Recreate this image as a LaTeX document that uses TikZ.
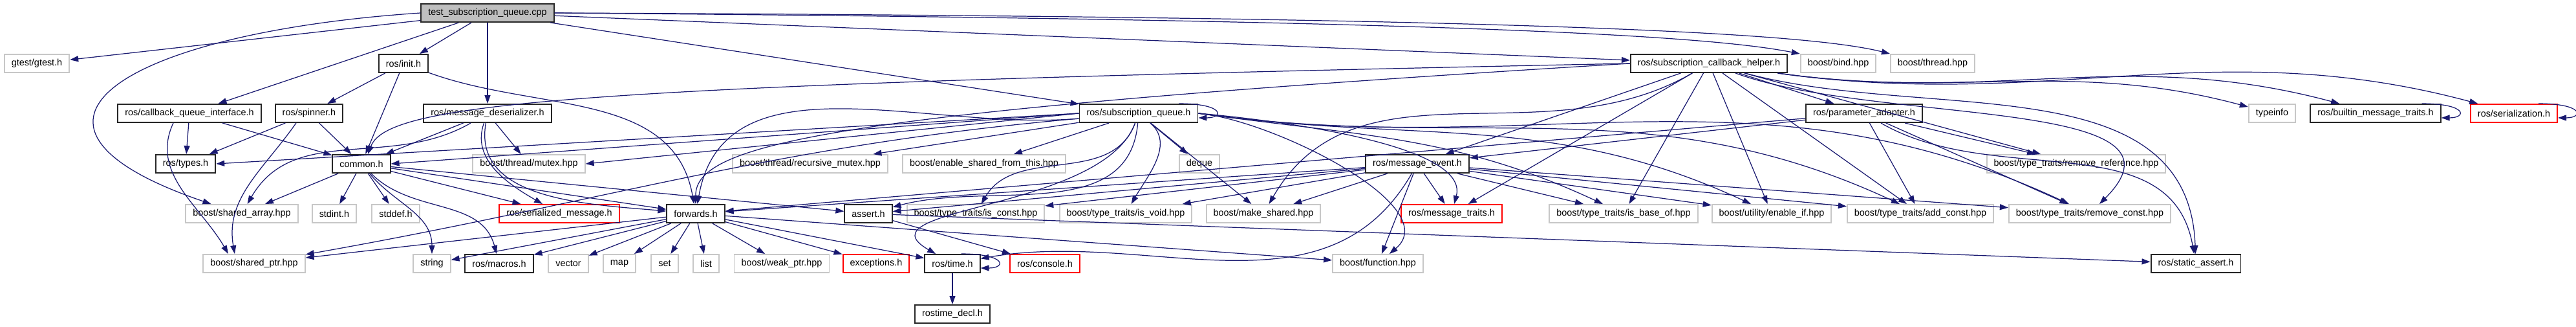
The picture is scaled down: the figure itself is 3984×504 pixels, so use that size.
\documentclass[tikz,border=0pt]{standalone}
\usepackage{fontspec}
\newfontfamily\dotfont{Liberation Sans}
\usetikzlibrary{arrows.meta}

\definecolor{edgeblue}{HTML}{191970}

\tikzset{
    hdr/.style={draw, rectangle, font=\dotfont\fontsize{4.1}{5}\selectfont, inner xsep=1.1mm, inner ysep=0pt, minimum height=2.8mm, line width=0.55pt},
    sysinc/.style={hdr, draw=black!22},
    docinc/.style={hdr, draw=black!85},
    trunc/.style={hdr, draw=red},
    rootfile/.style={hdr, draw=black!85, fill=black!25},
    dep/.style={draw=edgeblue, line width=0.35pt, -{Triangle[length=1.3mm, width=0.9mm]}}
}

\begin{document}
\begin{tikzpicture}[x=0.1mm, y=0.1mm]
            \useasboundingbox (0,0) rectangle (3984,-504);

            % Files, row by row
            \node (cpp) at (754,-20) [rootfile] {test\_subscription\_queue.cpp};

            \node (gtest) at (57,-98) [sysinc] {gtest/gtest.h};
            \node (init) at (624,-98) [docinc] {ros/init.h};
            \node (helper) at (2643,-98) [docinc] {ros/subscription\_callback\_helper.h};
            \node (bind) at (2843,-98) [sysinc] {boost/bind.hpp};
            \node (thread) at (2989,-98) [sysinc] {boost/thread.hpp};

            \node (cbqi) at (293,-175) [docinc] {ros/callback\_queue\_interface.h};
            \node (spinner) at (478,-175) [docinc] {ros/spinner.h};
            \node (deser) at (754,-175) [docinc] {ros/message\_deserializer.h};
            \node (subq) at (1761,-175) [docinc] {ros/subscription\_queue.h};
            \node (param) at (2883,-175) [docinc] {ros/parameter\_adapter.h};
            \node (typeinfo) at (3514,-175) [sysinc] {typeinfo};
            \node (builtin) at (3674,-175) [docinc] {ros/builtin\_message\_traits.h};
            \node (serial) at (3888,-175) [trunc] {ros/serialization.h};

            \node (types) at (287,-253) [docinc] {ros/types.h};
            \node (common) at (559,-253) [docinc] {common.h};
            \node (mutex) at (818,-253) [sysinc] {boost/thread/mutex.hpp};
            \node (recmutex) at (1253,-253) [sysinc] {boost/thread/recursive\_mutex.hpp};
            \node (enshared) at (1522,-253) [sysinc] {boost/enable\_shared\_from\_this.hpp};
            \node (deque) at (1855,-253) [sysinc] {deque};
            \node (msgevent) at (2192,-253) [docinc] {ros/message\_event.h};
            \node (removeref) at (3211,-253) [sysinc] {boost/type\_traits/remove\_reference.hpp};

            \node (sharedarray) at (374,-330) [sysinc] {boost/shared\_array.hpp};
            \node (stdint) at (517,-330) [sysinc] {stdint.h};
            \node (stddef) at (612,-330) [sysinc] {stddef.h};
            \node (serialmsg) at (865,-330) [trunc] {ros/serialized\_message.h};
            \node (forwards) at (1076,-330) [docinc] {forwards.h};
            \node (assert) at (1343,-330) [docinc] {assert.h};
            \node (isconst) at (1509,-330) [sysinc] {boost/type\_traits/is\_const.hpp};
            \node (isvoid) at (1741,-330) [sysinc] {boost/type\_traits/is\_void.hpp};
            \node (makeshared) at (1954,-330) [sysinc] {boost/make\_shared.hpp};
            \node (msgtraits) at (2245,-330) [trunc] {ros/message\_traits.h};
            \node (isbaseof) at (2511,-330) [sysinc] {boost/type\_traits/is\_base\_of.hpp};
            \node (enableif) at (2740,-330) [sysinc] {boost/utility/enable\_if.hpp};
            \node (addconst) at (2970,-330) [sysinc] {boost/type\_traits/add\_const.hpp};
            \node (removeconst) at (3232,-330) [sysinc] {boost/type\_traits/remove\_const.hpp};

            \node (sharedptr) at (393,-407) [sysinc] {boost/shared\_ptr.hpp};
            \node (string) at (668,-407) [sysinc] {string};
            \node (macros) at (772,-407) [docinc] {ros/macros.h};
            \node (vector) at (879,-407) [sysinc] {vector};
            \node (map) at (958,-407) [sysinc] {map};
            \node (set) at (1028,-407) [sysinc] {set};
            \node (list) at (1092,-407) [sysinc] {list};
            \node (weakptr) at (1209,-407) [sysinc] {boost/weak\_ptr.hpp};
            \node (exceptions) at (1355,-407) [trunc] {exceptions.h};
            \node (time) at (1473,-407) [docinc] {ros/time.h};
            \node (console) at (1616,-407) [trunc] {ros/console.h};
            \node (function) at (2131,-407) [sysinc] {boost/function.hpp};
            \node (staticassert) at (3396,-407) [docinc] {ros/static\_assert.h};

            \node (timedecl) at (1473,-485) [docinc] {rostime\_decl.h};

            % test_subscription_queue.cpp
            \foreach \t in {gtest, init, cbqi, deser, subq, helper}
                \draw[dep] (cpp) -- (\t);
            \draw[dep] (cpp.west) .. controls (200,-50) and (-40,-190) .. ([xshift=4mm]sharedarray.north west);
            \draw[dep] (cpp.east) .. controls (2300,-31) and (2650,-57) .. (bind.north west);
            \draw[dep] (cpp.east) .. controls (2400,-26) and (2800,-52) .. (thread.north west);

            % ros/init.h, callback queue, spinner
            \foreach \t in {spinner, common}
                \draw[dep] (init) -- (\t);
            \draw[dep] (init) to[out=-20, in=100] (forwards);
            \foreach \t in {types, common}
                \draw[dep] (cbqi) -- (\t);
            \draw[dep] ([xshift=-2.5mm]cbqi.south) to[out=-115, in=120] ([xshift=-4mm]sharedptr.north);
            \foreach \t in {types, common}
                \draw[dep] (spinner) -- (\t);
            \draw[dep] ([xshift=-2mm]spinner.south) to[out=-125, in=100] ([xshift=-3mm]sharedptr.north);

            % ros/message_deserializer.h
            \foreach \t in {common, mutex}
                \draw[dep] (deser) -- (\t);
            \draw[dep] (deser) to[out=-150, in=60] (sharedarray);
            \draw[dep] (deser) to[out=-110, in=150] (serialmsg);
            \draw[dep] (deser) to[out=-100, in=175] (forwards);

            % common.h
            \foreach \t in {sharedarray, stdint, stddef, serialmsg, forwards, assert}
                \draw[dep] (common) -- (\t);
            \draw[dep] (common) to[out=-50, in=90] (string);
            \draw[dep] (common) to[out=-45, in=105] (macros);

            % ros/subscription_queue.h
            \draw[dep] ([xshift=-3mm]subq.north east) .. controls +(7mm,0) and +(4mm,0) .. ([yshift=0.8mm]subq.south east);
            \foreach \t in {types, common, mutex}
                \draw[dep] (subq.west) -- (\t.east);
            \foreach \t in {recmutex, enshared, deque, makeshared}
                \draw[dep] (subq) -- (\t);
            \draw[dep] (subq) to[out=185, in=80] (forwards);
            \draw[dep] (subq) to[out=185, in=10] (sharedptr);
            \draw[dep] (subq) to[out=-110, in=150] (time);
            \draw[dep] (subq) to[out=-110, in=60] (isconst);
            \draw[dep] (subq) to[out=-95, in=15] (assert);
            \draw[dep] (subq) to[out=-40, in=60] (isvoid);
            \draw[dep] (subq.east) to[out=-5, in=75, looseness=0.6] (msgtraits);
            \draw[dep] (subq.east) to[out=-5, in=40, looseness=0.8] (function);
            \foreach \t in {isbaseof, enableif, addconst, removeconst}
                \draw[dep] (subq.east) to[out=-8, in=155] (\t);

            % ros/subscription_callback_helper.h
            \foreach \t in {msgevent, msgtraits, isbaseof, enableif, addconst, param, removeref}
                \draw[dep] (helper) -- (\t);
            \foreach \t in {typeinfo, builtin, serial}
                \draw[dep] (helper) to[out=-8, in=165] (\t);
            \draw[dep] (helper.west) .. controls (900,-131) and (600,-157) .. ([xshift=1mm]common.north);
            \draw[dep] (helper.west) .. controls (1300,-172) and (1075,-220) .. (forwards.north);
            \draw[dep] (helper) to[out=-150, in=60] (makeshared);
            \draw[dep] (helper) to[out=-20, in=45] (removeconst);
            \draw[dep] (helper) to[out=-15, in=92] (staticassert);
            \draw[dep] ([xshift=-3mm]builtin.north east) .. controls +(7mm,0) and +(4mm,0) .. ([yshift=0.8mm]builtin.south east);
            \draw[dep] ([xshift=-3mm]serial.north east) .. controls +(7mm,0) and +(4mm,0) .. ([yshift=0.8mm]serial.south east);

            % ros/parameter_adapter.h
            \foreach \t in {msgevent, forwards, addconst, removeconst, removeref}
                \draw[dep] (param) -- (\t);
            \draw[dep] (param) to[out=-30, in=100] (staticassert);

            % ros/message_event.h
            \foreach \t in {forwards, assert, isconst, isvoid, makeshared, msgtraits, isbaseof, enableif, addconst, removeconst, function}
                \draw[dep] (msgevent) -- (\t);
            \draw[dep] (msgevent) to[out=-120, in=10] (time);

            % forwards.h, assert.h, ros/time.h
            \foreach \t in {sharedptr, string, macros, vector, map, set, list, weakptr, exceptions, time, function}
                \draw[dep] (forwards) -- (\t);
            \foreach \t in {console, staticassert}
                \draw[dep] (assert) -- (\t);
            \draw[dep] (time) -- (timedecl);
            \draw[dep] ([xshift=-3mm]time.north east) .. controls +(7mm,0) and +(4mm,0) .. ([yshift=0.8mm]time.south east);

        \end{tikzpicture}
\end{document}
